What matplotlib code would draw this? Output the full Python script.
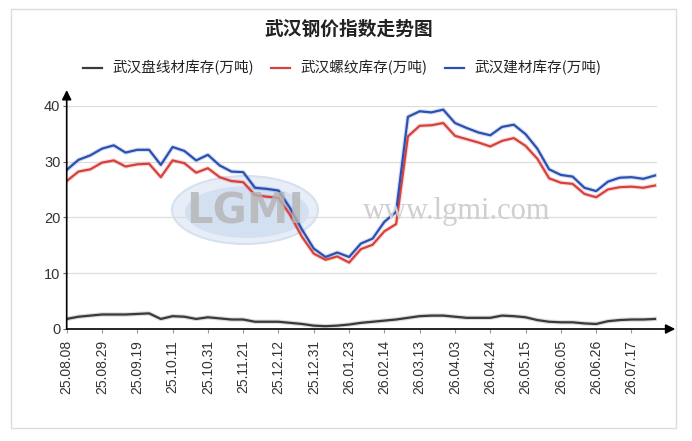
import matplotlib
matplotlib.use('Agg')
import matplotlib.pyplot as plt
from matplotlib.patches import Ellipse, Rectangle

plt.rcParams['font.family'] = ['Noto Sans CJK SC', 'DejaVu Sans']

# 周度日期 (每3周标一个刻度)
dates = ['25.08.08', '25.08.15', '25.08.22', '25.08.29', '25.09.05', '25.09.12',
         '25.09.19', '25.09.26', '25.09.30', '25.10.11', '25.10.17', '25.10.24',
         '25.10.31', '25.11.07', '25.11.14', '25.11.21', '25.11.28', '25.12.05',
         '25.12.12', '25.12.19', '25.12.26', '25.12.31', '26.01.09', '26.01.16',
         '26.01.23', '26.01.30', '26.02.06', '26.02.14', '26.02.27', '26.03.06',
         '26.03.13', '26.03.20', '26.03.27', '26.04.03', '26.04.10', '26.04.17',
         '26.04.24', '26.04.30', '26.05.08', '26.05.15', '26.05.22', '26.05.29',
         '26.06.05', '26.06.12', '26.06.19', '26.06.26', '26.07.03', '26.07.10',
         '26.07.17', '26.07.24', '26.07.31']

# 武汉盘线材库存(万吨)
panxian = [1.8, 2.2, 2.4, 2.6, 2.6, 2.6, 2.7, 2.8, 1.8, 2.3, 2.2, 1.8, 2.1,
           1.9, 1.7, 1.7, 1.3, 1.3, 1.3, 1.1, 0.9, 0.6, 0.5, 0.6, 0.8, 1.1,
           1.3, 1.5, 1.7, 2.0, 2.3, 2.4, 2.4, 2.2, 2.0, 2.0, 2.0, 2.4, 2.3,
           2.1, 1.6, 1.3, 1.2, 1.2, 1.0, 0.9, 1.4, 1.6, 1.7, 1.7, 1.8]

# 武汉螺纹库存(万吨)
luowen = [26.5, 28.2, 28.6, 29.8, 30.2, 29.1, 29.5, 29.6, 27.2, 30.2, 29.7,
          28.0, 28.8, 27.2, 26.5, 26.3, 24.0, 23.7, 23.5, 20.4, 16.5, 13.5,
          12.4, 13.0, 11.9, 14.3, 15.1, 17.5, 18.8, 34.5, 36.4, 36.5, 36.9,
          34.6, 34.0, 33.4, 32.7, 33.7, 34.2, 32.8, 30.5, 27.0, 26.2, 26.0,
          24.2, 23.6, 25.0, 25.4, 25.5, 25.3, 25.7]

# 武汉建材库存(万吨)
jiancai = [28.5, 30.3, 31.1, 32.3, 32.9, 31.6, 32.1, 32.1, 29.4, 32.6, 31.9,
           30.2, 31.2, 29.3, 28.2, 28.1, 25.3, 25.1, 24.8, 21.6, 17.8, 14.4,
           12.9, 13.7, 12.9, 15.3, 16.2, 19.2, 21.0, 38.0, 39.0, 38.8, 39.3,
           36.9, 36.0, 35.2, 34.7, 36.2, 36.6, 34.9, 32.3, 28.6, 27.6, 27.3,
           25.3, 24.7, 26.4, 27.1, 27.2, 26.9, 27.5]

series = [('武汉盘线材库存(万吨)', panxian, '#3a3a3a'),
          ('武汉螺纹库存(万吨)', luowen, '#d8403c'),
          ('武汉建材库存(万吨)', jiancai, '#2b50b3')]

W, H = 692, 441
fig = plt.figure(figsize=(W / 100, H / 100), dpi=100)
fig.patch.set_facecolor('white')

# 外框
fig.add_artist(Rectangle((11 / W, 13 / H), 665 / W, 419 / H, transform=fig.transFigure,
                         fill=False, edgecolor='#dcdcdc', lw=1))

ax = fig.add_axes([66.7 / W, (H - 329) / H, 590.3 / W, 223.3 / H])
x = list(range(len(dates)))

# 水印
ax.add_patch(Ellipse((245 / W, 1 - 210 / H), 146 / W, 68 / H, transform=fig.transFigure,
                     facecolor='#e8eef7', edgecolor='#d6e1f0', lw=1.5, zorder=0.5))
ax.add_patch(Ellipse((247 / W, 1 - 212 / H), 124 / W, 52 / H, transform=fig.transFigure,
                     facecolor='#d3e0f2', edgecolor='none', zorder=0.6))
fig.text(245 / W, 1 - 211 / H, 'LGMI', ha='center', va='center', fontsize=30,
         fontweight='bold', color='#b4b4b4', family=['DejaVu Sans'], alpha=0.8, zorder=0.7)
fig.text(457 / W, 1 - 212 / H, 'www.lgmi.com', ha='center', va='center', fontsize=22,
         color='#cfcfcf', family=['Liberation Serif'], zorder=0.7)

for name, vals, col in series:
    ax.plot(x, vals, color=col, lw=3.2, alpha=0.18, solid_joinstyle='round', zorder=2)
    ax.plot(x, vals, color=col, lw=1.6, label=name, solid_joinstyle='round', zorder=3)

ax.set_xlim(0, 50.17)
ax.set_ylim(0, 40)
ax.patch.set_alpha(0)

for s in ax.spines.values():
    s.set_visible(False)
ax.set_yticks([0, 10, 20, 30, 40])
ax.yaxis.grid(True, color='#dddddd', lw=0.9)
ax.set_axisbelow(True)
ax.set_xticks(x[::3])
ax.set_xticklabels(dates[::3], rotation=90, family=['Liberation Sans'], fontsize=10, color='#333333')
ax.set_yticklabels(['0', '10', '20', '30', '40'], family=['Liberation Sans'], fontsize=10.5,
                   color='#333333')
ax.tick_params(axis='x', length=3, color='#999999', pad=5)
ax.tick_params(axis='y', length=3, color='#666666', pad=1.5)

# 坐标轴箭头
ax.annotate('', xy=(0, 1.07), xytext=(0, 0), xycoords='axes fraction',
            arrowprops=dict(arrowstyle='-|>', color='black', lw=1.2, mutation_scale=14,
                            shrinkA=0, shrinkB=0))
ax.annotate('', xy=(1.031, 0), xytext=(0, 0), xycoords='axes fraction',
            arrowprops=dict(arrowstyle='-|>', color='black', lw=1.2, mutation_scale=14,
                            shrinkA=0, shrinkB=0))

fig.text(349 / W, 1 - 29 / H, '武汉钢价指数走势图', ha='center', va='center',
         fontsize=13.5, fontweight='bold', color='#222222')

handles, labels = ax.get_legend_handles_labels()
fig.legend(handles, labels, loc='center', bbox_to_anchor=(342 / W, 1 - 68 / H), ncol=3,
           frameon=False, fontsize=10.5, handlelength=1.3, handletextpad=0.7,
           columnspacing=1.2, labelcolor='#222222')

fig.savefig('out.png', dpi=100)
